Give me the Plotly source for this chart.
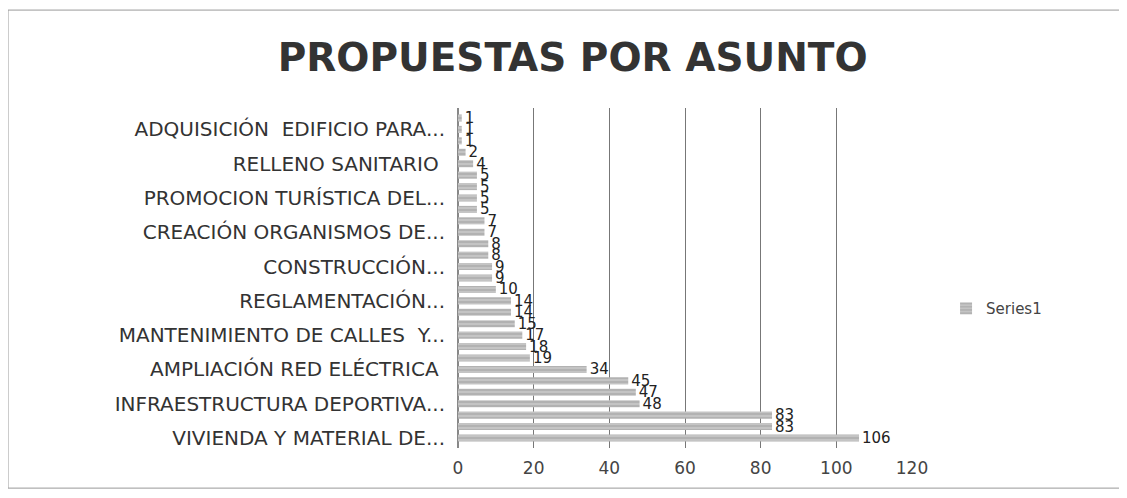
import plotly.graph_objects as go

# values listed bottom (first category) to top
values = [106, 83, 83, 48, 47, 45, 34, 19, 18, 17, 15, 14, 14, 10, 9, 9,
          8, 8, 7, 7, 5, 5, 5, 5, 4, 2, 1, 1, 1]

# only every third category name is visible on the axis
tick_labels = [
    "VIVIENDA Y MATERIAL DE...",
    "INFRAESTRUCTURA DEPORTIVA...",
    "AMPLIACIÓN RED ELÉCTRICA ",
    "MANTENIMIENTO DE CALLES  Y...",
    "REGLAMENTACIÓN...",
    "CONSTRUCCIÓN...",
    "CREACIÓN ORGANISMOS DE...",
    "PROMOCION TURÍSTICA DEL...",
    "RELLENO SANITARIO ",
    "ADQUISICIÓN  EDIFICIO PARA...",
]
x_ticks = [0, 20, 40, 60, 80, 100, 120]

positions = list(range(len(values)))
tick_positions = positions[::3][:len(tick_labels)]

font_family = "DejaVu Sans"

fig = go.Figure()
fig.add_trace(go.Bar(
    x=values,
    y=positions,
    orientation="h",
    name="Series1",
    marker=dict(
        color="#c4c4c4",
        line=dict(width=0),
        pattern=dict(shape="-", fgcolor="#8f8f8f", size=4, solidity=0.35),
    ),
    text=[str(v) for v in values],
    textposition="outside",
    constraintext="none",
    textfont=dict(family=font_family, size=15, color="#222"),
    cliponaxis=False,
))

fig.update_layout(
    width=1127,
    height=498,
    paper_bgcolor="white",
    plot_bgcolor="white",
    margin=dict(l=450, r=223, t=100, b=58, autoexpand=False),
    bargap=0.38,
    title=dict(
        text="<b>PROPUESTAS POR ASUNTO</b>",
        x=0.501, xanchor="center",
        y=0.9, yanchor="middle",
        font=dict(family=font_family, size=39, color="#333"),
    ),
    showlegend=True,
    legend=dict(
        x=1.075, y=0.41, xanchor="left", yanchor="middle",
        font=dict(family=font_family, size=15, color="#444"),
        bgcolor="rgba(0,0,0,0)",
    ),
    font=dict(family=font_family, color="#333"),
)

fig.update_xaxes(
    range=[0, 120],
    tickvals=x_ticks,
    ticktext=[str(t) for t in x_ticks],
    showgrid=True,
    gridcolor="#777",
    gridwidth=1,
    zeroline=True,
    zerolinecolor="#888",
    showline=False,
    tickfont=dict(family=font_family, size=17, color="#444"),
    ticklabelstandoff=8,
)
fig.update_yaxes(
    range=[-0.875, len(values) - 1 + 0.875],
    tickvals=tick_positions,
    ticktext=tick_labels,
    showgrid=False,
    zeroline=False,
    showline=False,
    tickfont=dict(family=font_family, size=20, color="#333"),
    ticklabelstandoff=12,
)

# outer chart border
fig.add_shape(type="rect", xref="paper", yref="paper",
              x0=-450 / 454, x1=1.458, y0=-0.118, y1=1.288,
              line=dict(color="#999", width=1))

fig.write_html("out.html")
